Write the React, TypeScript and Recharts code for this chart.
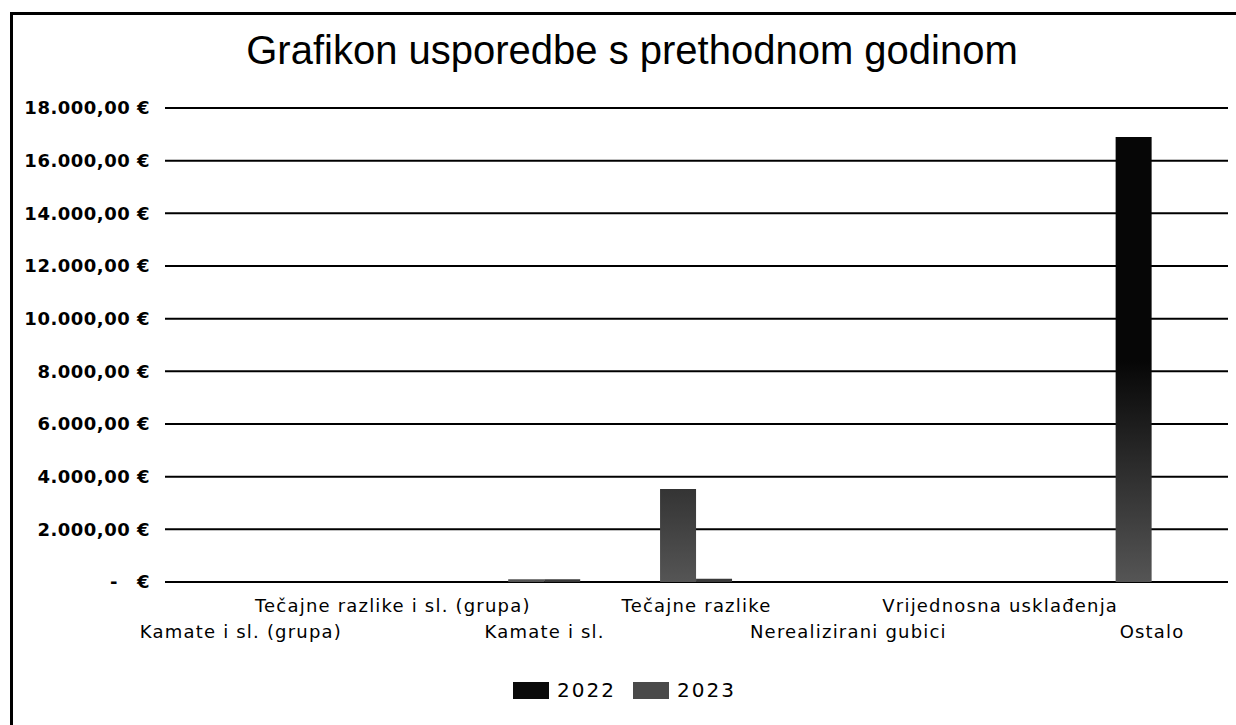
import React from 'react';
import { BarChart, Bar, XAxis, YAxis, CartesianGrid, Legend } from 'recharts';

const categories = [
  'Kamate i sl. (grupa)',
  'Tečajne razlike i sl. (grupa)',
  'Kamate i sl.',
  'Tečajne razlike',
  'Nerealizirani gubici',
  'Vrijednosna usklađenja',
  'Ostalo',
];
const values2022 = [0, 0, 100, 3530, 0, 0, 16900];
const values2023 = [0, 0, 100, 120, 0, 0, 0];
const yTicks = [0, 2000, 4000, 6000, 8000, 10000, 12000, 14000, 16000, 18000];
const seriesNames = ['2022', '2023'];
const legendColors = ['#0a0a0a', '#4a4a4a'];

const data = categories.map((c, i) => ({ name: c, v2022: values2022[i], v2023: values2023[i] }));

const fmtEuro = (v: number) => {
  if (v === 0) return '-\u2002\u2002€';
  const s = Math.round(v).toString().replace(/\B(?=(\d{3})+(?!\d))/g, '.');
  return s + ',00 €';
};

const CatTick = (props: any) => {
  const { x, y, payload, index } = props;
  const lower = index % 2 === 0;
  return (
    <text
      x={x}
      y={y + (lower ? 48 : 22)}
      textAnchor="middle"
      fontFamily="DejaVu Sans"
      fontSize={18}
      letterSpacing={1.2}
      fill="#000"
    >
      {payload.value}
    </text>
  );
};

const LegendContent = () => (
  <div style={{ display: 'flex', justifyContent: 'center', alignItems: 'center', fontFamily: 'DejaVu Sans', fontSize: 20, letterSpacing: 2, paddingLeft: 30 }}>
    {seriesNames.map((n, i) => (
      <div key={n} style={{ display: 'flex', alignItems: 'center', marginRight: 17 }}>
        <div style={{ width: 36, height: 17, background: legendColors[i], marginRight: 8 }} />
        <span>{n}</span>
      </div>
    ))}
  </div>
);

export default function App() {
  return (
    <div style={{ position: 'absolute', left: 0, top: 0, width: 1236, height: 725, background: '#fff', overflow: 'hidden' }}>
      <div style={{ position: 'absolute', left: 10, top: 12, width: 1240, height: 730, borderTop: '3px solid #000', borderLeft: '3px solid #000' }} />
      <div style={{ position: 'absolute', left: 14, top: 27, width: 1236, textAlign: 'center', fontFamily: 'Liberation Sans', fontSize: 40, lineHeight: '46px', color: '#000' }}>
        Grafikon usporedbe s prethodnom godinom
      </div>
      <div style={{ position: 'absolute', left: 0, top: 0 }}>
        <BarChart
          width={1236}
          height={725}
          data={data}
          margin={{ top: 108, right: 8, bottom: 59, left: 0 }}
          barCategoryGap="26%"
          barGap={0}
        >
          <defs>
            <linearGradient id="g2022" gradientUnits="userSpaceOnUse" x1="0" y1="360" x2="0" y2="582">
              <stop offset="0" stopColor="#060606" />
              <stop offset="1" stopColor="#555555" />
            </linearGradient>
          </defs>
          <CartesianGrid horizontal vertical={false} stroke="#000" strokeWidth={2} />
          <XAxis
            dataKey="name"
            axisLine={false}
            tickLine={false}
            interval={0}
            tick={<CatTick />}
            height={60}
          />
          <YAxis
            domain={[0, 18000]}
            ticks={yTicks}
            width={165}
            axisLine={false}
            tickLine={false}
            tickMargin={9}
            tickFormatter={fmtEuro}
            tick={{ fontFamily: 'DejaVu Sans', fontSize: 18, fontWeight: 'bold', letterSpacing: 0.5, fill: '#000' }}
          />
          <Legend content={<LegendContent />} wrapperStyle={{ top: 678, left: 0, width: 1236 }} />
          <Bar dataKey="v2022" name="2022" fill="url(#g2022)" isAnimationActive={false} />
          <Bar dataKey="v2023" name="2023" fill="#3a3a3a" isAnimationActive={false} />
        </BarChart>
      </div>
    </div>
  );
}
